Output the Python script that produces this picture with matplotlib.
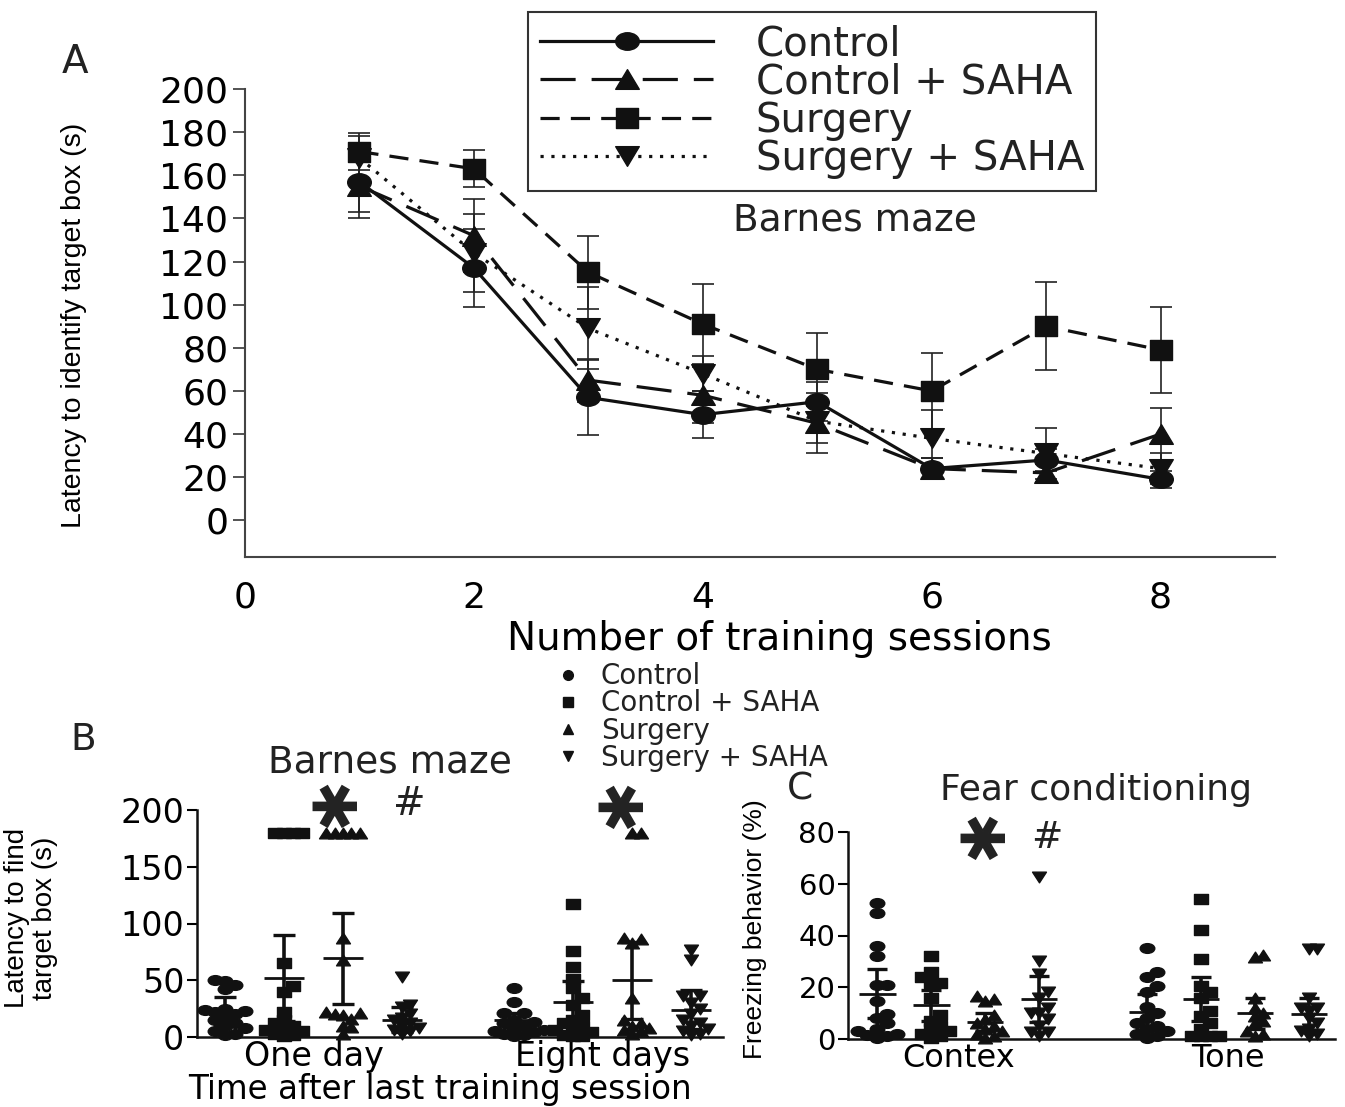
import numpy as np
import matplotlib.pyplot as plt
from matplotlib.markers import MarkerStyle
from matplotlib.transforms import Affine2D
from matplotlib.lines import Line2D

plt.rcParams['font.family'] = ['DejaVu Sans']
plt.rcParams['text.color'] = '#222222'
NARROW = ['Liberation Sans', 'DejaVu Sans']
INK = '#111111'

# ---------------- data ----------------
groups = ['Control', 'Control + SAHA', 'Surgery', 'Surgery + SAHA']

# panel A: latency per training session (mean, error)
sessions = [1, 2, 3, 4, 5, 6, 7, 8]
ctrl_mean = [157, 117, 57, 49, 55, 24, 28, 19]
ctrl_err = [17, 18, 17.5, 11, 9, 5, 5, 4]
ctrl_saha_mean = [155, 132, 65, 58, 45, 24, 22, 40]
ctrl_saha_err = [12, 17, 10, 13, 14, 5, 4, 12]
surg_mean = [171, 163, 115, 91, 70, 60, 90, 79]
surg_err = [8.5, 8.5, 17, 18.5, 17, 17.5, 20.5, 20]
surg_saha_mean = [168, 124, 89, 68, 46, 38, 31, 24]
surg_saha_err = [10, 18, 19, 8, 10, 13, 12, 7]

# panel B: latency to find target box, individual animals
b_one_day = [
    [50, 49, 46, 42, 25, 24, 23, 22, 20, 18, 15, 12, 10, 8, 5, 3, 2],
    [180, 180, 180, 180, 65, 45, 40, 22, 15, 12, 10, 8, 6, 5, 3, 2, 1],
    [180, 180, 180, 180, 180, 87, 68, 22, 21, 20, 19, 16, 10, 9, 3],
    [53, 28, 26, 20, 17, 15, 12, 10, 8, 6, 5, 3],
]
b_one_day_mean = [23, 52, 69.5, 15]
b_one_day_sd = [12, 38, 40, 11]
b_eight_days = [
    [43, 31, 21, 21, 15, 13, 12, 10, 8, 6, 5, 4, 3, 2, 1],
    [117, 76, 62, 51, 43, 34, 28, 19, 15, 12, 10, 8, 6, 4, 2, 1, 1],
    [180, 180, 87, 86, 83, 34, 15, 12, 10, 8, 6, 5, 3],
    [77, 68, 36, 36, 30, 25, 20, 15, 12, 10, 7, 5, 3, 2],
]
b_eight_days_mean = [15, 31, 50, 24]
b_eight_days_sd = [6.5, 18, 34, 17]
b_ticks = ['One day', 'Eight days']

# panel C: freezing behaviour (%)
c_contex = [
    [52.5, 48.7, 36, 32, 21, 21, 14.5, 9.7, 8, 6, 4, 3, 2, 1.5, 1, 0.5],
    [32, 26, 24, 21.6, 21.6, 16, 9.4, 7, 5, 4, 3, 2, 1, 0.5],
    [16.6, 15.5, 14.5, 9.4, 7.7, 6, 5, 4, 3, 2, 1, 0.5],
    [62.6, 30, 25, 18, 16, 12, 10, 10, 7.7, 5, 2.7, 2.7, 1.2],
]
c_contex_mean = [17.5, 13, 6.5, 15.5]
c_contex_sd = [9.5, 6, 3.5, 9]
c_tone = [
    [35, 26, 24, 20.5, 18, 12.5, 10, 8, 6, 5, 4, 3, 2, 1, 0.5],
    [54, 42, 31, 20.5, 18, 16, 11, 9, 6, 4, 1, 1, 1, 1],
    [32.5, 31.5, 16, 12, 10, 9, 7, 6, 3, 2, 1],
    [34.7, 34.7, 16, 12, 12, 11, 8, 6, 4, 3, 2, 1],
]
c_tone_mean = [10.5, 15.5, 10, 9.7]
c_tone_sd = [7, 8.5, 6, 6.3]
c_ticks = ['Contex', 'Tone']


def wide(marker, sx):
    # markers in the figure are a little stretched sideways
    ms = MarkerStyle(marker)
    p = ms.get_path().transformed(ms.get_transform())
    return p.transformed(Affine2D().scale(sx, 1.0))


def swarm(vals, w, h):
    placed = []
    offs = []
    for v in vals:
        k = 0
        while True:
            off = ((k + 1) // 2) * w * (1 if k % 2 else -1)
            if all(abs(off - po) >= w - 1e-9 or abs(v - pv) >= h - 1e-9
                   for po, pv in placed):
                break
            k += 1
        placed.append((off, v))
        offs.append(off)
    return np.array(offs)


fig = plt.figure(figsize=(13.45, 11.07), dpi=100)

# ---------------- panel A ----------------
axA = fig.add_axes([245 / 1345, 1 - 557 / 1107, 1030 / 1345, 468 / 1107])
a_series = [
    (ctrl_mean, ctrl_err, dict(marker=wide('o', 1.35), ms=17, ls='-')),
    (ctrl_saha_mean, ctrl_saha_err, dict(marker=wide('^', 1.2), ms=17, dashes=(11, 5))),
    (surg_mean, surg_err, dict(marker=wide('s', 1.15), ms=16, dashes=(6, 3.5))),
    (surg_saha_mean, surg_saha_err, dict(marker=wide('v', 1.2), ms=17, dashes=(1, 2.4))),
]
handles = []
for mean, err, st in a_series:
    axA.errorbar(sessions, mean, yerr=err, color=INK, lw=2.3, ecolor='#222222',
                 elinewidth=1.2, capsize=8, capthick=1.2, clip_on=False, **st)
    handles.append(Line2D([], [], color=INK, lw=2.3, **st))

axA.set_xlim(0, 9)
axA.set_ylim(-17, 200)
axA.set_xticks([0, 2, 4, 6, 8])
axA.set_yticks(range(0, 201, 20))
for s in ['top', 'right']:
    axA.spines[s].set_visible(False)
for s in ['left', 'bottom']:
    axA.spines[s].set_color('#444444')
    axA.spines[s].set_linewidth(1.5)
axA.tick_params(axis='y', length=9, width=1.3, color='#444444', labelsize=26, pad=3)
axA.tick_params(axis='x', length=0, labelsize=26, pad=17)
axA.set_xlabel('Number of training sessions', fontsize=28)
axA.xaxis.set_label_coords(0.519, -0.135)
axA.set_ylabel('Latency to identify target box (s)', fontsize=20.5, family=NARROW)
axA.yaxis.set_label_coords(-0.153, 0.494)
axA.text(0.592, 0.72, 'Barnes maze', transform=axA.transAxes, fontsize=27,
         ha='center', va='center')
legA = fig.legend(handles, groups, loc='upper left',
                  bbox_to_anchor=(528 / 1345, 1 - 12 / 1107), borderaxespad=0,
                  fancybox=False, edgecolor='#333333', fontsize=29,
                  handlelength=4.3, handletextpad=1.05, labelspacing=-0.04,
                  borderpad=0.3, framealpha=1)
legA.get_frame().set_linewidth(1.5)
fig.text(75 / 1345, 1 - 62 / 1107, 'A', fontsize=28, ha='center', va='center')

# ---------------- scatter panels ----------------
dot_markers = [
    dict(marker=wide('o', 1.5), ms=10.5),
    dict(marker=wide('s', 1.45), ms=10),
    dict(marker=wide('^', 1.3), ms=10),
    dict(marker=wide('v', 1.3), ms=10),
]
dot_px = [(14, 9), (13, 9), (12, 9), (12, 9)]


def scatter_panel(ax, sets, means, sds, bases, px_x, px_y, half_mean, cap):
    for base, data, mm, ss in zip(bases, sets, means, sds):
        for i in range(4):
            x0 = base + i
            vals = sorted(data[i])
            wpx, hpx = dot_px[i]
            off = swarm(vals, 0.7 * wpx / px_x, 0.8 * hpx / px_y)
            ax.plot(x0 + off, vals, ls='none', color=INK, clip_on=False,
                    **dot_markers[i])
            ax.errorbar(x0, mm[i], yerr=ss[i], fmt='none', ecolor=INK,
                        elinewidth=2.6, capsize=cap, capthick=2.4, clip_on=False)
            ax.hlines(mm[i], x0 - half_mean, x0 + half_mean, color=INK, lw=2)
    for s in ['top', 'right']:
        ax.spines[s].set_visible(False)
    for s in ['left', 'bottom']:
        ax.spines[s].set_color(INK)
        ax.spines[s].set_linewidth(1.8)


# panel B
axB = fig.add_axes([197 / 1345, 1 - 1037 / 1107, 526 / 1345, 227 / 1107])
b_bases = [0, 4.9]
scatter_panel(axB, [b_one_day, b_eight_days], [b_one_day_mean, b_eight_days_mean],
              [b_one_day_sd, b_eight_days_sd], b_bases, 59, 1.135, 0.34, 8)
axB.set_xlim(-0.475, 8.44)
axB.set_ylim(0, 200)
axB.set_yticks(range(0, 201, 50))
axB.set_xticks([b + 1.5 for b in b_bases])
axB.set_xticklabels(b_ticks)
axB.tick_params(axis='y', length=7, width=1.5, labelsize=24, pad=2)
axB.tick_params(axis='x', length=0, labelsize=24, pad=2)
axB.set_xlabel('Time after last training session', fontsize=23.5)
axB.xaxis.set_label_coords(0.462, -0.158)
axB.set_ylabel('Latency to find\ntarget box (s)', fontsize=20, family=NARROW,
               linespacing=1.1)
axB.yaxis.set_label_coords(-0.265, 0.524)
axB.text(0.367, 1.211, 'Barnes maze', transform=axB.transAxes, fontsize=27,
         ha='center', va='center')
axB.text(1.9, 207, '\u2731', rotation=90, fontsize=44, ha='center', va='center')
axB.text(3.13, 205, '#', fontsize=28, ha='center', va='center')
axB.text(6.75, 206, '\u2731', rotation=90, fontsize=44, ha='center', va='center')
leg_handles = [Line2D([], [], ls='none', color=INK, marker=m, ms=7)
               for m in ['o', 's', '^', 'v']]
axB.legend(leg_handles, groups, loc='center left',
           bbox_to_anchor=(555 / 1345, 1 - 717 / 1107),
           bbox_transform=fig.transFigure, frameon=False, fontsize=20,
           handlelength=0.9, handletextpad=0.75, labelspacing=-0.03,
           borderpad=0, borderaxespad=0)
fig.text(83 / 1345, 1 - 740 / 1107, 'B', fontsize=27, ha='center', va='center')

# panel C
axC = fig.add_axes([848 / 1345, 1 - 1039 / 1107, 487 / 1345, 207 / 1107])
c_bases = [0, 5]
scatter_panel(axC, [c_contex, c_tone], [c_contex_mean, c_tone_mean],
              [c_contex_sd, c_tone_sd], c_bases, 54, 2.5875, 0.34, 7.5)
axC.set_xlim(-0.54, 8.48)
axC.set_ylim(0, 80)
axC.set_yticks(range(0, 81, 20))
axC.set_xticks([b + 1.5 for b in c_bases])
axC.set_xticklabels(c_ticks)
axC.tick_params(axis='y', length=7, width=1.5, labelsize=21, pad=2)
axC.tick_params(axis='x', length=0, labelsize=23, pad=3)
axC.set_ylabel('Freezing behavior (%)', fontsize=19, family=NARROW)
axC.yaxis.set_label_coords(-0.166, 0.53)
axC.text(0.509, 1.203, 'Fear conditioning', transform=axC.transAxes, fontsize=26,
         ha='center', va='center')
axC.text(2.0, 79, '\u2731', rotation=90, fontsize=44, ha='center', va='center')
axC.text(3.15, 77.5, '#', fontsize=27, ha='center', va='center')
fig.text(800 / 1345, 1 - 790 / 1107, 'C', fontsize=27, ha='center', va='center')

fig.savefig('out.png', dpi=100)
